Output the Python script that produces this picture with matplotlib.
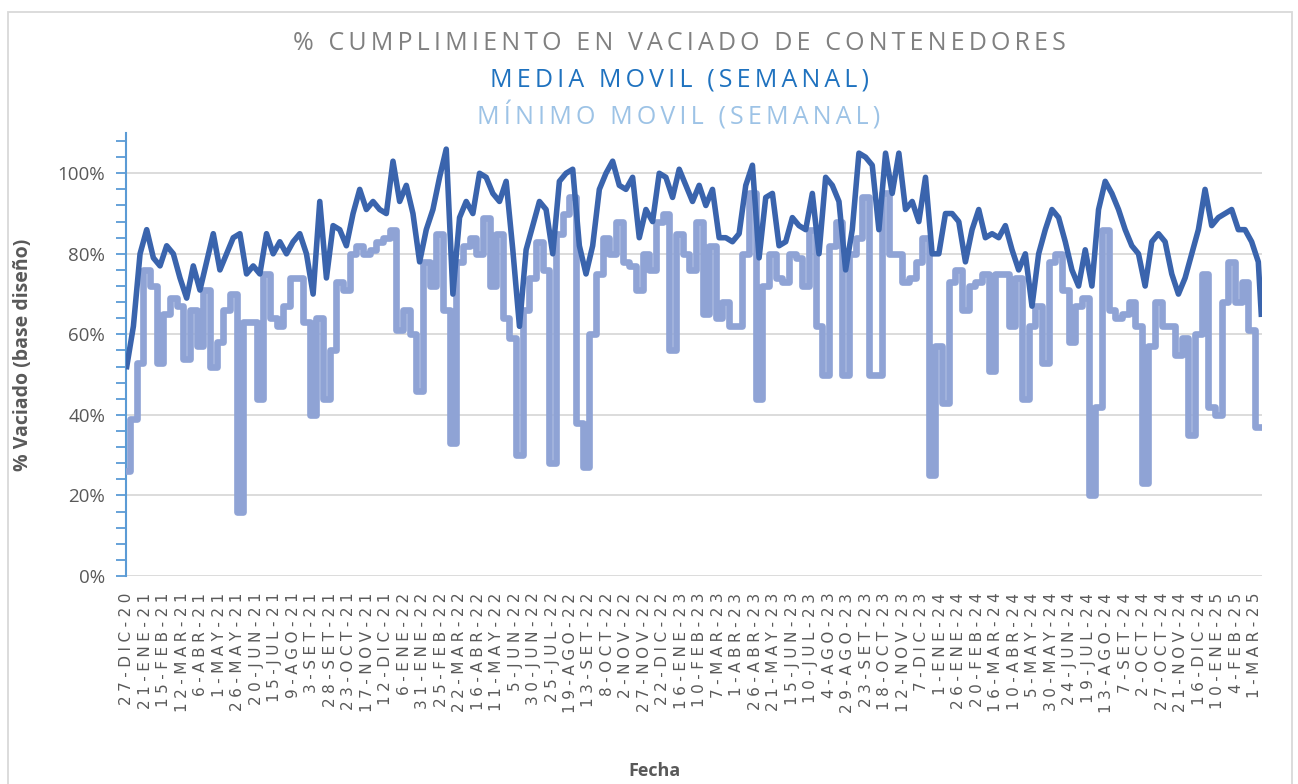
import numpy as np
import pandas as pd
import matplotlib
matplotlib.use("Agg")
import matplotlib.pyplot as plt
from matplotlib.patches import Rectangle
from matplotlib.ticker import FixedLocator, FuncFormatter

# Valores: una muestra cada 9 días desde el 27-DIC-20
inicio = "2020-12-27"
paso_dias = 9
fin = "2025-03-10"

media_movil = [
    52, 62, 80, 86, 79, 77, 82, 80, 74, 69, 77, 71, 78, 85, 76, 80, 84, 85, 75, 77,
    75, 85, 80, 83, 80, 83, 85, 80, 70, 93, 74, 87, 86, 82, 90, 96, 91, 93, 91, 90,
    103, 93, 97, 90, 78, 86, 91, 99, 106,
    70, 89, 93, 90, 100, 99, 95, 93, 98, 81, 62, 81, 87, 93, 91, 80, 98, 100, 101, 82,
    75, 82, 96, 100, 103, 97, 96, 99, 84, 91, 88, 100, 99, 94, 101, 97, 93, 97, 92, 96,
    84, 84, 83, 85, 97, 102, 79, 94, 95, 82, 83, 89, 87, 86, 95, 80, 99, 97, 93, 76,
    86, 105, 104,
    102, 86, 105, 95, 105, 91, 93, 88, 99, 80, 80, 90, 90, 88, 78, 86, 91, 84, 85, 84,
    87, 81, 76, 80, 67, 80, 86, 91, 89, 83, 76, 72, 81, 72, 91, 98, 95, 91, 86, 82,
    80, 72, 83, 85, 83, 75, 70, 74, 80, 86, 96, 87, 89, 90, 91, 86, 86, 83, 78,
    65,
]

minimo_movil = [
    26, 39, 53, 76, 72, 53, 65, 69, 67, 54, 66, 57, 71, 52, 58, 66, 70, 16, 63, 63,
    44, 75, 64, 62, 67, 74, 74, 63, 40, 64, 44, 56, 73, 71, 80, 82, 80, 81, 83, 84,
    86, 61, 66, 60, 46, 78, 72, 85, 66,
    33, 78, 82, 84, 80, 89, 72, 85, 64, 59, 30, 66, 74, 83, 76, 28, 85, 90, 94, 38,
    27, 60, 75, 84, 80, 88, 78, 77, 71, 80, 76, 88, 90, 56, 85, 80, 76, 88, 65, 82,
    64, 68, 62, 62, 80, 95, 44, 72, 80, 74, 73, 80, 79, 72, 86, 62, 50, 82, 88, 50,
    80, 84, 94,
    50, 50, 95, 80, 80, 73, 74, 78, 84, 25, 57, 43, 73, 76, 66, 72, 73, 75, 51, 75,
    75, 62, 74, 44, 62, 67, 53, 78, 80, 71, 58, 67, 69, 20, 42, 86, 66, 64, 65, 68,
    62, 23, 57, 68, 62, 62, 55, 59, 35, 60, 75, 42, 40, 68, 78, 68, 73, 61, 37,
    37,
]

meses = ["ENE", "FEB", "MAR", "ABR", "MAY", "JUN", "JUL", "AGO", "SET", "OCT", "NOV", "DIC"]

n = len(media_movil) - 1
fechas = list(pd.date_range(inicio, periods=n, freq=f"{paso_dias}D")) + [pd.Timestamp(fin)]
media = np.array(media_movil) / 100
minimo = np.array(minimo_movil) / 100

ticks_x = pd.date_range(inicio, "2025-03-01", freq="25D")


def espaciar(s, sep="\u2009"):
    return sep.join(s)


etiquetas_x = [espaciar(f"{d.day}-{meses[d.month - 1]}-{d.year % 100:02d}", "\u2009\u200a")
               for d in ticks_x]

W, H = 1298, 784
fig = plt.figure(figsize=(W / 100, H / 100), dpi=100)
ax = fig.add_axes([126 / W, 1 - 576 / H, (1262 - 126) / W, (576 - 133) / H])

ax.plot(fechas, minimo, color="#8FA3D5", lw=4.8, drawstyle="steps-mid", zorder=3)
ax.plot(fechas, media, color="#3A64AD", lw=4.0, zorder=4)

ax.set_ylim(0, 1.10)
ax.set_xlim(pd.Timestamp(inicio) - pd.Timedelta(days=1), pd.Timestamp("2025-03-11"))

ax.yaxis.set_major_locator(FixedLocator(np.arange(0, 1.01, 0.2)))
ax.yaxis.set_minor_locator(FixedLocator([v for v in np.arange(0, 1.09, 0.04) if round(v * 100) % 20 != 0]))
ax.yaxis.set_major_formatter(FuncFormatter(lambda v, p: f"{v * 100:.0f}%"))
ax.yaxis.grid(True, color="#D9D9D9", lw=1.3)
ax.set_axisbelow(True)

for s in ["top", "right", "bottom"]:
    ax.spines[s].set_visible(False)
ax.spines["left"].set_color("#5B9BD5")
ax.spines["left"].set_linewidth(1.5)

ax.tick_params(axis="y", which="both", direction="out", length=7, width=1.3, color="#5B9BD5")
ax.tick_params(axis="y", which="major", labelsize=13.5, labelcolor="#595959", pad=8)
for t in ax.get_yticklabels():
    t.set_family(["Open Sans", "DejaVu Sans"])

ax.set_xticks(ticks_x)
ax.set_xticklabels(etiquetas_x, rotation=90, ha="center", va="top",
                   fontsize=11, color="#595959", family=["DejaVu Sans"])
ax.tick_params(axis="x", length=0, pad=12)

ax.set_ylabel("% Vaciado (base diseño)", fontsize=14, fontweight="bold", color="#595959",
              family=["Open Sans", "DejaVu Sans"])
ax.yaxis.set_label_coords((33 - 126) / (1262 - 126), 0.5)

fig.text(655 / W, 1 - 771 / H, "Fecha", ha="center", va="center", fontsize=13,
         fontweight="bold", color="#595959", family=["Open Sans", "DejaVu Sans"])

titulos = [
    ("% CUMPLIMIENTO EN VACIADO DE CONTENEDORES", "#808080", 44),
    ("MEDIA MOVIL (SEMANAL)", "#1F72BF", 80),
    ("MÍNIMO MOVIL (SEMANAL)", "#9DC3E6", 116),
]
for texto, color, y in titulos:
    fig.text(679 / W, 1 - y / H, espaciar(texto), ha="center", va="center", fontsize=18,
             color=color, family=["Open Sans", "DejaVu Sans"])

fig.patches.append(Rectangle((8 / W, -0.02), (1292 - 8) / W, 1 - 12 / H + 0.02,
                             transform=fig.transFigure, fill=False, ec="#D9D9D9", lw=1.3))

fig.savefig("out.png", dpi=100, facecolor="white")
